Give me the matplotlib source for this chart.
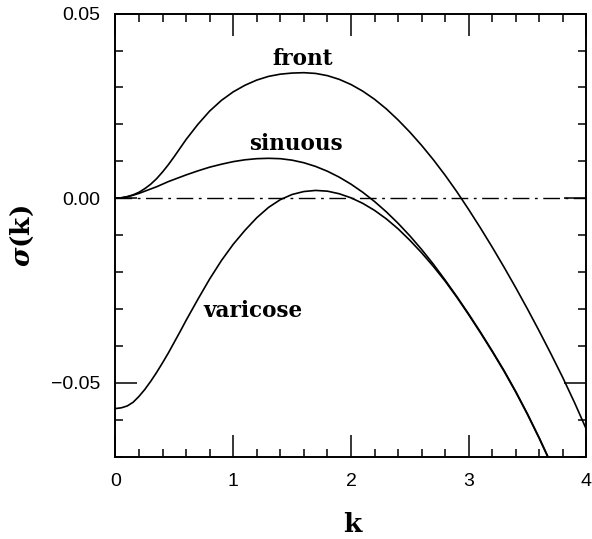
import numpy as np
import matplotlib
matplotlib.use("Agg")
import matplotlib.pyplot as plt
from matplotlib.ticker import MultipleLocator

plt.rcParams["mathtext.fontset"] = "dejavuserif"

# growth rate sigma(k)
k = [0.0, 0.05, 0.1, 0.15, 0.2, 0.25, 0.3, 0.35, 0.4, 0.45, 0.5, 0.55, 0.6, 0.7, 0.8, 0.9,
     1.0, 1.1, 1.2, 1.3, 1.4, 1.5, 1.6, 1.7, 1.8, 1.9,
     2.0, 2.1, 2.2, 2.3, 2.4, 2.5, 2.6, 2.7, 2.8, 2.9,
     3.0, 3.1, 3.2, 3.3, 3.4, 3.5, 3.6, 3.7, 3.8, 3.9, 4.0]

front = [0.0, 0.0001, 0.0004, 0.0009, 0.0016, 0.0026, 0.0038, 0.0053, 0.0071, 0.0091,
         0.0113, 0.0136, 0.0159, 0.0200, 0.0236, 0.0265,
         0.0288, 0.0306, 0.0320, 0.0330, 0.0336, 0.0339, 0.0340, 0.0338, 0.0332, 0.0322,
         0.0308, 0.0290, 0.0268, 0.0242, 0.0212, 0.0179, 0.0143, 0.0104, 0.0062, 0.0017,
         -0.0031, -0.0081, -0.0133, -0.0187, -0.0243, -0.0301, -0.0361, -0.0423, -0.0487,
         -0.0555, -0.0627]

sinuous = [0.0, 0.0001, 0.0004, 0.0008, 0.0013, 0.0019, 0.0025, 0.0031, 0.0038, 0.0045,
           0.0051, 0.0057, 0.0063, 0.0074, 0.0084, 0.0092,
           0.0099, 0.0104, 0.0107, 0.0108, 0.0107, 0.0103, 0.0096, 0.0086, 0.0073, 0.0057,
           0.0038, 0.0016, -0.0009, -0.0037, -0.0068, -0.0102, -0.0139, -0.0179, -0.0222,
           -0.0267, -0.0314, -0.0363, -0.0414, -0.0467, -0.0524, -0.0585, -0.0650, -0.0719]

varicose = [-0.0570, -0.0568, -0.0563, -0.0553, -0.0537, -0.0518, -0.0496, -0.0472, -0.0446,
            -0.0419, -0.0390, -0.0361, -0.0331, -0.0274, -0.0219, -0.0169,
            -0.0125, -0.0087, -0.0053, -0.0025, -0.0004, 0.0010, 0.0018, 0.0021,
            0.0019, 0.0012, 0.0001, -0.0014, -0.0033, -0.0056, -0.0083, -0.0114, -0.0148,
            -0.0185, -0.0225, -0.0269, -0.0316, -0.0365, -0.0416, -0.0469, -0.0526, -0.0587,
            -0.0652, -0.0721]

curve_labels = {"front": (1.59, 0.0376), "sinuous": (1.53, 0.0147), "varicose": (1.17, -0.0305)}

fig = plt.figure(figsize=(5.92, 5.39), dpi=100)
ax = fig.add_axes([0.195, 0.153, 0.7957, 0.8217])

lw = 1.2
ax.plot(k, front, color="black", lw=lw)
ax.plot(k[:len(sinuous)], sinuous, color="black", lw=lw)
ax.plot(k[:len(varicose)], varicose, color="black", lw=lw)
zero_line = ax.plot([0, 4], [0, 0], color="black", lw=1.0)[0]
zero_line.set_dashes([12, 4, 2, 4])

for name, (x, y) in curve_labels.items():
    ax.text(x, y, name, ha="center", va="center", family="DejaVu Serif",
            fontweight="bold", fontsize=15.5)

ax.set_xlim(0, 4)
ax.set_ylim(-0.07, 0.05)
ax.xaxis.set_major_locator(MultipleLocator(1))
ax.xaxis.set_minor_locator(MultipleLocator(0.2))
ax.yaxis.set_major_locator(MultipleLocator(0.05))
ax.yaxis.set_minor_locator(MultipleLocator(0.01))
ax.yaxis.set_major_formatter(plt.FuncFormatter(lambda v, p: f"{v:.2f}".replace("-", "\u2212")))

ax.tick_params(which="both", direction="in", top=True, right=True, width=1.1)
ax.tick_params(which="major", length=16, pad=11)
ax.tick_params(axis="x", which="major", pad=12)
ax.tick_params(which="minor", length=5.5)
for lab in ax.get_xticklabels() + ax.get_yticklabels():
    lab.set_family("Liberation Sans")
    lab.set_fontsize(14)
for sp in ax.spines.values():
    sp.set_linewidth(1.4)

ax.set_xlabel("k", family="DejaVu Serif", fontweight="bold", fontsize=19)
ax.set_ylabel(r"$\mathbfit{\sigma}$(k)", family="DejaVu Serif", fontweight="bold", fontsize=19)
ax.xaxis.label.set_va("center")
ax.yaxis.label.set_va("center")
ax.xaxis.set_label_coords(0.502, -0.1525)
ax.yaxis.set_label_coords(-0.197, 0.498)

fig.savefig("out.png", dpi=100)
